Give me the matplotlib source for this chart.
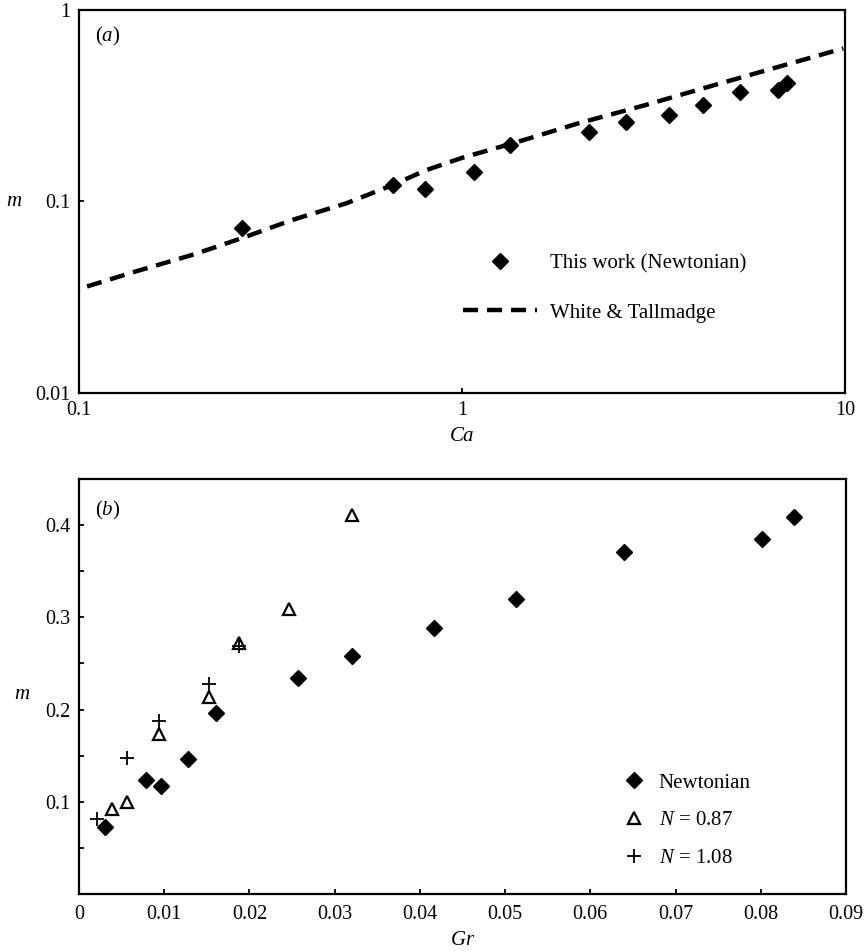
import matplotlib

matplotlib.use("Agg")
import matplotlib.pyplot as plt
from matplotlib.ticker import FixedLocator, NullLocator

plt.rcParams["font.family"] = ["Liberation Serif", "DejaVu Serif"]
plt.rcParams["mathtext.fontset"] = "custom"
plt.rcParams["mathtext.rm"] = "Liberation Serif"
plt.rcParams["mathtext.it"] = "Liberation Serif:italic"
plt.rcParams["font.size"] = 15

# panel (a): m against Ca, log-log
CA_NEWT = [0.266, 0.662, 0.80, 1.077, 1.334, 2.14, 2.68, 3.48, 4.27, 5.32, 6.67, 7.05]
M_NEWT_A = [0.0724, 0.122, 0.116, 0.143, 0.197, 0.232, 0.261, 0.283, 0.319, 0.374, 0.383, 0.414]

CA_WT = [0.105, 0.14, 0.2, 0.27, 0.36, 0.5, 0.66, 0.8, 1.0, 1.4, 2.0, 3.0, 4.3, 6.0, 9.9]
M_WT = [0.036, 0.043, 0.053, 0.065, 0.080, 0.098, 0.122, 0.145, 0.169, 0.205, 0.255,
        0.318, 0.392, 0.474, 0.63]

# panel (b): m against Gr
GR_NEWT = [0.0031, 0.0079, 0.0096, 0.0128, 0.0161, 0.0257, 0.0320, 0.0417,
           0.0513, 0.0640, 0.0801, 0.0839]
M_NEWT_B = [0.073, 0.124, 0.117, 0.146, 0.196, 0.234, 0.258, 0.289,
            0.320, 0.371, 0.385, 0.409]

GR_N087 = [0.0039, 0.0056, 0.0094, 0.0152, 0.0188, 0.0246, 0.0320]
M_N087 = [0.092, 0.100, 0.174, 0.214, 0.272, 0.309, 0.411]

GR_N108 = [0.0021, 0.0056, 0.0094, 0.0152, 0.0188]
M_N108 = [0.081, 0.148, 0.188, 0.228, 0.269]

fig = plt.figure(figsize=(8.67, 9.52), dpi=100)

# ---- (a)
ax = fig.add_axes([0.0911, 0.5872, 0.8835, 0.4023])
ax.plot(CA_NEWT, M_NEWT_A, ls="none", marker="D", ms=8.5, color="black",
        label="This work (Newtonian)")
ax.plot(CA_WT, M_WT, ls=(0, (3.4, 2.0)), lw=3.2, color="black", label="White & Tallmadge")
ax.set_xscale("log")
ax.set_yscale("log")
ax.set_xlim(0.1, 10)
ax.set_ylim(0.01, 1)
ax.xaxis.set_major_locator(FixedLocator([0.1, 1, 10]))
ax.yaxis.set_major_locator(FixedLocator([0.01, 0.1, 1]))
ax.xaxis.set_minor_locator(NullLocator())
ax.yaxis.set_minor_locator(NullLocator())
ax.set_xticklabels(["0.1", "1", "10"])
ax.set_yticklabels(["0.01", "0.1", "1"])
ax.tick_params(direction="in", length=3.5, width=1.3, pad=6, labelsize=14.5)
ax.set_xlabel(r"$Ca$", labelpad=5)
ax.set_ylabel(r"$m$", rotation=0, va="center", ha="center")
ax.yaxis.set_label_coords(-0.085, 0.5)
ax.text(0.021, 0.932, r"($\mathit{a}$)", transform=ax.transAxes, ha="left", va="center")
ax.legend(loc="upper left", bbox_to_anchor=(0.501, 0.363), frameon=False,
          handlelength=3.55, handletextpad=0.63, labelspacing=1.42, borderpad=0,
          borderaxespad=0)
for s in ax.spines.values():
    s.set_linewidth(1.6)

# ---- (b)
bx = fig.add_axes([0.0911, 0.0609, 0.8847, 0.4359])
bx.plot(GR_NEWT, M_NEWT_B, ls="none", marker="D", ms=8.5, color="black", label="Newtonian")
bx.plot(GR_N087, M_N087, ls="none", marker="^", ms=9, mfc="white", mec="black",
        mew=1.6, label=r"$N$ = 0.87")
bx.plot(GR_N108, M_N108, ls="none", marker="+", ms=10, color="black", mew=1.3,
        label=r"$N$ = 1.08")
bx.set_xlim(0, 0.09)
bx.set_ylim(0, 0.45)
bx.xaxis.set_major_locator(FixedLocator([0, 0.01, 0.02, 0.03, 0.04, 0.05, 0.06, 0.07, 0.08, 0.09]))
bx.set_xticklabels(["0", "0.01", "0.02", "0.03", "0.04", "0.05", "0.06", "0.07", "0.08", "0.09"])
bx.yaxis.set_major_locator(FixedLocator([0.1, 0.2, 0.3, 0.4]))
bx.set_yticklabels(["0.1", "0.2", "0.3", "0.4"])
bx.yaxis.set_minor_locator(FixedLocator([0.05, 0.15, 0.25, 0.35]))
bx.tick_params(which="both", direction="in", length=3.5, width=1.3, pad=6, labelsize=14.5)
bx.tick_params(axis="x", pad=8)
bx.set_xlabel(r"$Gr$", labelpad=5)
bx.set_ylabel(r"$m$", rotation=0, va="center", ha="center")
bx.yaxis.set_label_coords(-0.074, 0.482)
bx.text(0.021, 0.925, r"($\mathit{b}$)", transform=bx.transAxes, ha="left", va="center")
bx.legend(loc="upper left", bbox_to_anchor=(0.7106, 0.2916), frameon=False,
          handlelength=1.0, handletextpad=0.67, labelspacing=0.865, borderpad=0,
          borderaxespad=0)
for s in bx.spines.values():
    s.set_linewidth(1.6)

fig.savefig("out.png", dpi=100, facecolor="white")
